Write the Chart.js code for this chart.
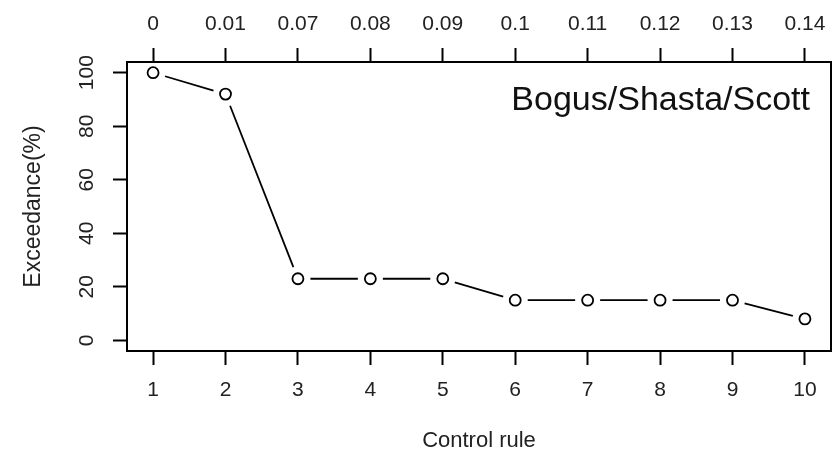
<!DOCTYPE html>
<html>
<head>
<meta charset="utf-8">
<title>Exceedance by control rule</title>
<script src="https://cdn.jsdelivr.net/npm/chart.js@4.4.1/dist/chart.umd.min.js"></script>
<style>
  html, body { margin: 0; padding: 0; background: #fff; }
  #wrap { width: 833px; height: 457px; position: relative; }
</style>
</head>
<body>
<div id="wrap"><canvas id="chart"></canvas></div>
<script>
// control rules along the bottom, harvest rates along the top
const controlRules = [1, 2, 3, 4, 5, 6, 7, 8, 9, 10];
const harvestRates = ["0", "0.01", "0.07", "0.08", "0.09", "0.1", "0.11", "0.12", "0.13", "0.14"];
const exceedance = [100, 92, 23, 23, 23, 15, 15, 15, 15, 8];
const yTicks = [0, 20, 40, 60, 80, 100];
const panelLabel = "Bogus/Shasta/Scott";

const FONT = "'Liberation Sans', Arial, sans-serif";

// lines between points with a gap around each circle (like type = "b")
const gappedLines = {
  id: "gappedLines",
  beforeDatasetsDraw(chart) {
    const pts = chart.getDatasetMeta(0).data;
    const ctx = chart.ctx;
    const gap = 12.5;
    ctx.save();
    ctx.strokeStyle = "#000";
    ctx.lineWidth = 1.8;
    for (let i = 0; i < pts.length - 1; i++) {
      const a = pts[i], b = pts[i + 1];
      const dx = b.x - a.x, dy = b.y - a.y;
      const len = Math.hypot(dx, dy);
      if (len <= gap * 2) continue;
      const ux = dx / len, uy = dy / len;
      ctx.beginPath();
      ctx.moveTo(a.x + ux * gap, a.y + uy * gap);
      ctx.lineTo(b.x - ux * gap, b.y - uy * gap);
      ctx.stroke();
    }
    ctx.restore();
  }
};

// frame, rotated y labels and the panel label
const decorations = {
  id: "decorations",
  afterDraw(chart) {
    const ctx = chart.ctx;
    const area = chart.chartArea;
    const y = chart.scales.y;
    ctx.save();
    ctx.strokeStyle = "#000";
    ctx.lineWidth = 2;
    ctx.strokeRect(area.left, area.top, area.right - area.left, area.bottom - area.top);

    ctx.fillStyle = "#222";
    ctx.font = "21px " + FONT;
    ctx.textAlign = "center";
    ctx.textBaseline = "middle";
    y.ticks.forEach((t) => {
      const py = y.getPixelForValue(t.value);
      ctx.save();
      ctx.translate(87, py);
      ctx.rotate(-Math.PI / 2);
      ctx.fillText(String(t.value), 0, 0);
      ctx.restore();
    });

    ctx.fillStyle = "#111";
    ctx.font = "34px " + FONT;
    ctx.textAlign = "right";
    ctx.textBaseline = "alphabetic";
    ctx.fillText(panelLabel, area.right - 21, area.top + 48);
    ctx.restore();
  }
};

const tickGrid = {
  drawOnChartArea: false,
  drawTicks: true,
  tickLength: 14,
  tickWidth: 2,
  tickColor: "#000"
};

const fixTicks = (values) => (scale) => {
  scale.ticks = values.map((v) => ({ value: v }));
};

// fixed band height, no extra room for overhanging labels
const fixHeight = (h) => (scale) => {
  scale.height = h;
  scale.paddingLeft = 0;
  scale.paddingRight = 0;
};

new Chart(document.getElementById("chart"), {
  type: "line",
  data: {
    datasets: [
      {
        data: controlRules.map((r, i) => ({ x: r, y: exceedance[i] })),
        showLine: false,
        pointRadius: 5.5,
        pointBorderWidth: 1.8,
        pointBorderColor: "#000",
        pointBackgroundColor: "#fff",
        pointHoverRadius: 5.5
      }
    ]
  },
  options: {
    responsive: true,
    maintainAspectRatio: false,
    animation: false,
    layout: {
      autoPadding: false,
      padding: { left: 0, right: 2, top: 0, bottom: 0 }
    },
    plugins: {
      legend: { display: false },
      tooltip: { enabled: false }
    },
    scales: {
      x: {
        type: "linear",
        position: "bottom",
        min: 0.64,
        max: 10.36,
        afterBuildTicks: fixTicks(controlRules),
        afterFit: fixHeight(106),
        grid: tickGrid,
        border: { display: false },
        ticks: {
          color: "#222",
          font: { family: FONT, size: 21 },
          padding: 13,
          maxRotation: 0
        },
        title: {
          display: true,
          text: "Control rule",
          color: "#222",
          font: { family: FONT, size: 22 },
          padding: { top: 0, bottom: 3 }
        }
      },
      x2: {
        type: "linear",
        position: "top",
        min: 0.64,
        max: 10.36,
        afterBuildTicks: fixTicks(controlRules),
        afterFit: fixHeight(62),
        grid: tickGrid,
        border: { display: false },
        ticks: {
          color: "#222",
          font: { family: FONT, size: 21 },
          padding: 11,
          maxRotation: 0,
          callback: (v) => harvestRates[controlRules.indexOf(v)]
        }
      },
      y: {
        type: "linear",
        position: "left",
        min: -4,
        max: 104,
        afterBuildTicks: fixTicks(yTicks),
        afterFit: (scale) => { scale.width = 127; },
        grid: tickGrid,
        border: { display: false },
        ticks: { display: false },
        title: {
          display: true,
          text: "Exceedance(%)",
          color: "#222",
          font: { family: FONT, size: 23 },
          padding: { top: 20, bottom: 0 }
        }
      }
    }
  },
  plugins: [gappedLines, decorations]
});
</script>
</body>
</html>
